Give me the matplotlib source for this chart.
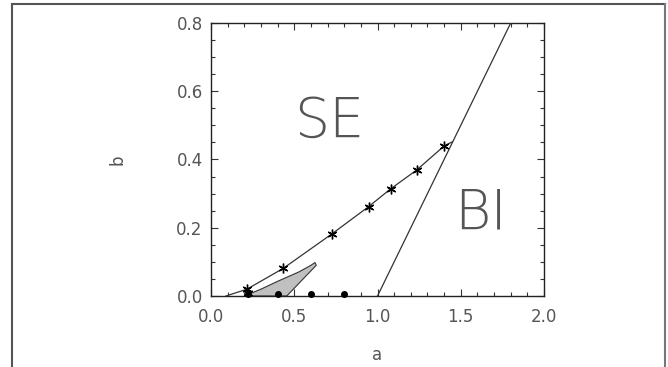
import matplotlib
matplotlib.use("Agg")
import matplotlib.pyplot as plt
from matplotlib.ticker import MultipleLocator
from matplotlib.lines import Line2D

# boundary curve (SE / lower region)
curve_a = [0.09, 0.216, 0.434, 0.729, 0.947, 1.079, 1.235, 1.401, 1.45]
curve_b = [0.0, 0.02, 0.081, 0.183, 0.262, 0.314, 0.369, 0.44, 0.452]
# star markers
star_a = [0.216, 0.22, 0.434, 0.729, 0.947, 1.079, 1.235, 1.401]
star_b = [0.02, 0.008, 0.081, 0.183, 0.262, 0.314, 0.369, 0.44]
# BI boundary line
line_a = [1.0, 1.8]
line_b = [0.0, 0.8]
# gray region
gray_a = [0.20, 0.30, 0.40, 0.53, 0.60, 0.625, 0.632, 0.455]
gray_b = [0.0, 0.02, 0.043, 0.071, 0.09, 0.098, 0.09, 0.0]
# dots
dot_a = [0.224, 0.40, 0.60, 0.80]
dot_b = [0.007, 0.007, 0.007, 0.007]

fig = plt.figure(figsize=(6.68, 3.67), dpi=100)
ax = fig.add_axes([211/668, 1-296/367, (544-211)/668, (296-23)/367])

ax.fill(gray_a, gray_b, facecolor="#c0c0c0", edgecolor="#333333", lw=0.8, zorder=2)
ax.plot(curve_a, curve_b, color="#333333", lw=0.9, zorder=3)
ax.plot(line_a, line_b, color="#333333", lw=0.9, zorder=3)
ax.plot(star_a, star_b, ls="none", marker=(6, 2, 0), ms=7, mew=1.0, color="black", zorder=4)
ax.plot(dot_a, dot_b, ls="none", marker="o", ms=4, color="black", zorder=4, clip_on=False)

ax.set_xlim(0, 2.0)
ax.set_ylim(0, 0.8)
ax.xaxis.set_major_locator(MultipleLocator(0.5))
ax.xaxis.set_minor_locator(MultipleLocator(0.1))
ax.yaxis.set_major_locator(MultipleLocator(0.2))
ax.yaxis.set_minor_locator(MultipleLocator(0.05))
ax.tick_params(which="both", direction="in", top=True, right=True, color="#333333", width=0.8)
ax.tick_params(which="major", length=5, labelsize=12, labelcolor="#555555", pad=6)
ax.tick_params(which="minor", length=3)
ax.xaxis.set_major_formatter(plt.FuncFormatter(lambda v, p: f"{v:.1f}"))
ax.yaxis.set_major_formatter(plt.FuncFormatter(lambda v, p: f"{v:.1f}"))
ax.tick_params(axis="x", pad=9)
for s in ax.spines.values():
    s.set_color("#222222")
    s.set_linewidth(1.0)

ax.set_xlabel("a", fontsize=12, color="#555555", labelpad=14)
ax.set_ylabel("b", fontsize=12, color="#555555", labelpad=36)

ax.text(0.71, 0.51, "SE", fontsize=40, color="#555555", ha="center", va="center",
        family="DejaVu Sans", fontweight="ultralight")
ax.text(1.62, 0.24, "BI", fontsize=40, color="#555555", ha="center", va="center",
        family="DejaVu Sans", fontweight="ultralight")

# outer frame
fig.add_artist(Line2D([12/668, 12/668], [-0.02, 1-4/367], transform=fig.transFigure, color="#555555", lw=1.5))
fig.add_artist(Line2D([12/668, 665/668], [1-4/367, 1-4/367], transform=fig.transFigure, color="#555555", lw=1.5))
fig.add_artist(Line2D([665/668, 665/668], [-0.02, 1-4/367], transform=fig.transFigure, color="#777777", lw=1.5))

fig.savefig("out.png", dpi=100)
